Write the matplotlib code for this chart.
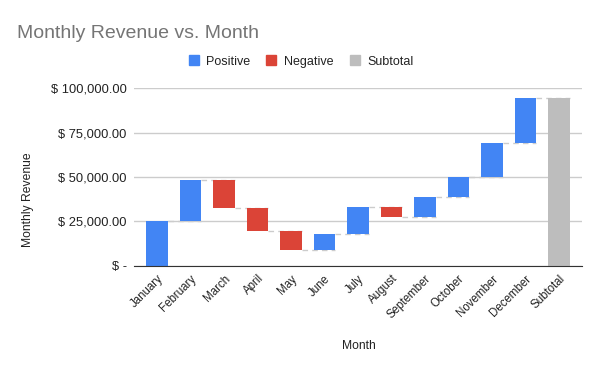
import matplotlib
matplotlib.use("Agg")
import matplotlib.pyplot as plt
from matplotlib.patches import Patch
from matplotlib.ticker import FuncFormatter

plt.rcParams['font.family'] = ['Liberation Sans', 'DejaVu Sans']

months = ["January", "February", "March", "April", "May", "June", "July",
          "August", "September", "October", "November", "December"]
changes = [25000, 23200, -15550, -12950, -10700, 8800, 15200,
           -5400, 11050, 11250, 19100, 25400]
subtotal_label = "Subtotal"

BLUE = "#4285F4"
RED = "#DB4437"
GREY = "#BDBDBD"

def money(v, pos=None):
    if v == 0:
        return "$ -"
    return "$ {:,.2f}".format(v)

fig = plt.figure(figsize=(6, 3.71), dpi=100)
ax = fig.add_axes([0.223, 0.284, 0.7465, 0.478])

# waterfall bars
running = 0
levels = []
for i, c in enumerate(changes):
    bottom = running if c >= 0 else running + c
    ax.bar(i, abs(c), bottom=bottom, width=0.65,
           color=BLUE if c >= 0 else RED, zorder=3)
    running += c
    levels.append(running)
ax.bar(len(changes), running, width=0.65, color=GREY, zorder=3)

# connector lines
for i, lv in enumerate(levels):
    ax.plot([i + 0.325, i + 1.325], [lv, lv], color="#cccccc", lw=1,
            ls=(0, (4, 3)), zorder=2)

labels = months + [subtotal_label]
ax.set_xticks(range(len(labels)))
ax.set_xticklabels(labels, rotation=45, ha='right', rotation_mode='anchor',
                   fontsize=8.3, color="#222222")
ax.set_xlim(-0.69, 12.68)
ax.set_ylim(0, 100000)
ax.set_yticks([0, 25000, 50000, 75000, 100000])
ax.yaxis.set_major_formatter(FuncFormatter(money))
ax.tick_params(axis='y', length=0, pad=5, labelsize=9.3, labelcolor="#222222")
ax.tick_params(axis='x', length=0, pad=5)
ax.grid(axis='y', color="#cccccc", lw=1, zorder=0)
for s in ['top', 'right', 'left']:
    ax.spines[s].set_visible(False)
ax.spines['bottom'].set_color("#333333")
ax.spines['bottom'].set_zorder(4)

fig.text(17 / 600, 1 - 37.7 / 371, "Monthly Revenue vs. Month", fontsize=14,
         color="#757575", va='baseline', ha='left')
fig.text(28 / 600, 1 - 200 / 371, "Monthly Revenue", rotation=90, fontsize=8.7,
         color="#222222", ha='center', va='center')
fig.text(359 / 600, 1 - 346 / 371, "Month", fontsize=8.7, color="#222222",
         ha='center', va='center')

handles = [Patch(color=BLUE, label="Positive"),
           Patch(color=RED, label="Negative"),
           Patch(color=GREY, label="Subtotal")]
fig.legend(handles=handles, ncol=3, loc='center', frameon=False,
           bbox_to_anchor=(301 / 600, 1 - 61.5 / 371), fontsize=9,
           handlelength=0.8, handleheight=0.8, handletextpad=0.6,
           columnspacing=1.3, labelcolor="#222222")

fig.savefig("out.png", dpi=100)
